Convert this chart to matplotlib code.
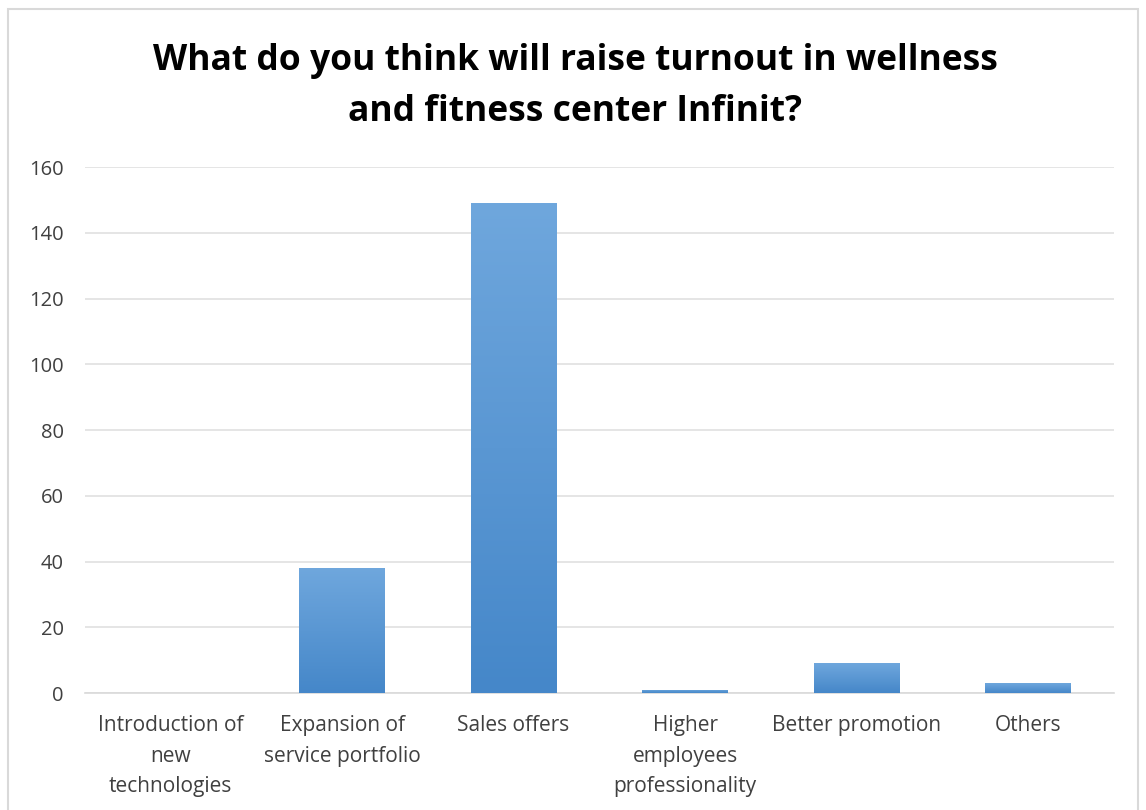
import matplotlib.pyplot as plt
import numpy as np
from matplotlib.patches import Rectangle
from matplotlib.colors import LinearSegmentedColormap

categories = ["Introduction of\nnew\ntechnologies", "Expansion of\nservice portfolio", "Sales offers",
              "Higher\nemployees\nprofessionality", "Better promotion", "Others"]
values = [0, 38, 149, 1, 9, 3]
yticks = [0, 20, 40, 60, 80, 100, 120, 140, 160]

plt.rcParams['font.family'] = ['Open Sans', 'DejaVu Sans']

fig = plt.figure(figsize=(11.46, 8.10), dpi=100)
ax = fig.add_axes([0.074, 0.1444, 0.898, 0.6494])

# outer chart frame
fig.patches.append(Rectangle((8 / 1146, -0.05), 1130 / 1146, 1.05 - 9 / 810, transform=fig.transFigure,
                             fill=False, edgecolor='#d9d9d9', linewidth=1.5))

x = np.arange(len(categories))
bars = ax.bar(x, values, width=0.5, color='none', edgecolor='none', zorder=3)

# gradient fill inside each bar (lighter at top)
cmap = LinearSegmentedColormap.from_list('excelblue', ['#4587c9', '#6fa7dd'])
grad = np.linspace(0, 1, 256).reshape(-1, 1)
for b in bars:
    h = b.get_height()
    if h <= 0:
        continue
    x0 = b.get_x()
    im = ax.imshow(grad, cmap=cmap, origin='lower', aspect='auto',
                   extent=[x0, x0 + b.get_width(), 0, h], zorder=3)
    im.set_clip_path(b)

ax.set_xlim(-0.5, len(categories) - 0.5)
ax.set_ylim(0, 160)
ax.set_yticks(yticks)
ax.set_xticks(x)
ax.set_xticklabels(categories, fontsize=15, color='#404040', linespacing=1.58, va='top')
ax.tick_params(axis='y', labelsize=14.5, labelcolor='#404040', length=0, pad=15)
ax.tick_params(axis='x', length=0, pad=16)
ax.grid(axis='y', color='#e0e0e0', linewidth=1.2, zorder=0)
ax.set_axisbelow(True)
for s in ['top', 'right', 'left']:
    ax.spines[s].set_visible(False)
ax.spines['bottom'].set_color('#d9d9d9')
ax.spines['bottom'].set_linewidth(1.2)

fig.text(0.502, 0.893, "What do you think will raise turnout in wellness\nand fitness center Infinit?",
         ha='center', va='center', fontsize=25.5, fontweight='bold', color='black', linespacing=1.55)

fig.savefig('out.png', dpi=100)
